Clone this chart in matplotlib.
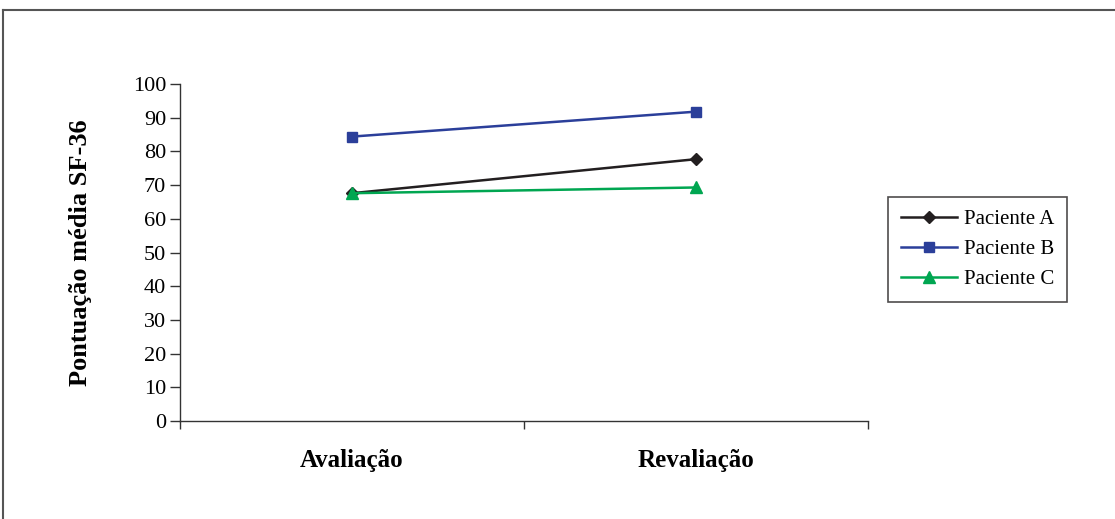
import numpy as np
import matplotlib.pyplot as plt
from matplotlib.lines import Line2D

# mean SF-36 scores per patient, first assessment vs. re-assessment
momentos = ["Avaliação", "Revaliação"]
paciente_a = [67.6, 77.7]
paciente_b = [84.4, 91.8]
paciente_c = [67.6, 69.3]

plt.rcParams['font.family'] = ['Liberation Serif', 'DejaVu Serif']

fig = plt.figure(figsize=(11.15, 5.19), dpi=100)
ax = fig.add_axes([0.1614, 0.1888, 0.6170, 0.6493])

x = np.arange(len(momentos))
ax.plot(x, paciente_a, color='#231f20', lw=1.8, marker='D', ms=6, label='Paciente A')
ax.plot(x, paciente_b, color='#2b3f9a', lw=1.8, marker='s', ms=6.5, label='Paciente B')
ax.plot(x, paciente_c, color='#00a651', lw=1.8, marker='^', ms=8, label='Paciente C')

ax.set_xlim(-0.5, 1.5)
ax.set_ylim(0, 100)
ax.set_yticks(range(0, 101, 10))
ax.tick_params(axis='y', labelsize=16, direction='out', length=7, width=1, color='#333333', pad=3)

# category labels sit between the boundary ticks
ax.set_xticks([-0.5, 0.5, 1.5])
ax.set_xticklabels([])
ax.set_xticks(x, minor=True)
ax.set_xticklabels(momentos, minor=True, fontsize=18, fontweight='bold')
ax.tick_params(axis='x', which='major', direction='out', length=6, width=1, color='#333333')
ax.tick_params(axis='x', which='minor', length=0, pad=20)

for s in ['top', 'right']:
    ax.spines[s].set_visible(False)
for s in ['left', 'bottom']:
    ax.spines[s].set_color('#333333')
    ax.spines[s].set_linewidth(1)

ax.set_ylabel('Pontuação média SF-36', fontsize=19, fontweight='bold', labelpad=29)

leg = fig.legend(loc='upper left', bbox_to_anchor=(888 / 1115, 1 - 197 / 519),
                 fontsize=15, frameon=True, fancybox=False, edgecolor='#231f20',
                 borderpad=0.6, handlelength=2.7, labelspacing=0.5, handletextpad=0.35,
                 borderaxespad=0)
leg.get_frame().set_linewidth(1.2)

# outer chart frame (only top and left edges fall inside the image)
fig.add_artist(Line2D([3 / 1115, 3 / 1115], [0, 1 - 10 / 519], color='#555555', lw=1.5))
fig.add_artist(Line2D([3 / 1115, 1], [1 - 10 / 519, 1 - 10 / 519], color='#555555', lw=1.5))

fig.savefig('out.png', dpi=100)
